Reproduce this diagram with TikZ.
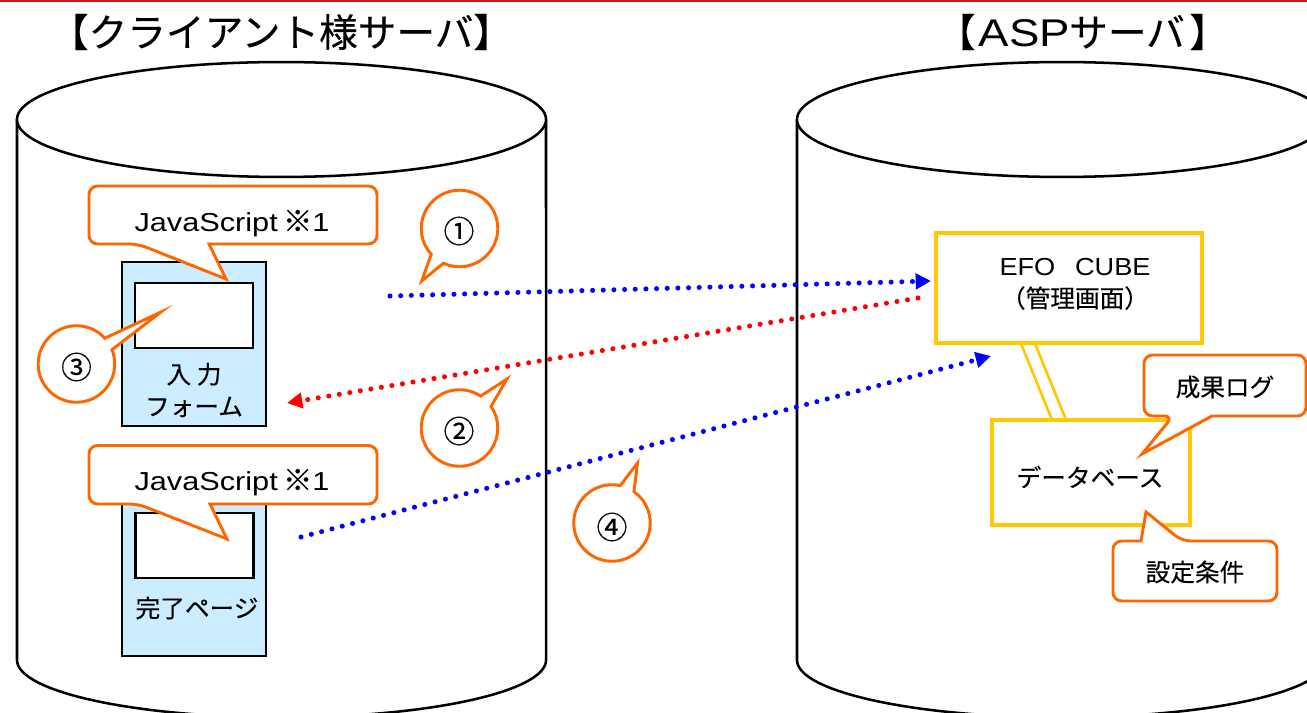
\documentclass[tikz,border=0pt]{standalone}
\usepackage{fontspec}
\setmainfont{Liberation Sans}
\newfontfamily\jp[FakeBold=0.25]{Noto Sans CJK JP}
\newfontfamily\ltn[FakeStretch=1.1]{Liberation Sans}
\newfontfamily\ltnb[FakeStretch=1.18]{Liberation Sans}
\usetikzlibrary{arrows.meta,calc}
\definecolor{orng}{HTML}{FF6600}
\definecolor{yel}{HTML}{FFC800}
\definecolor{pale}{HTML}{CCECFF}
\definecolor{topline}{HTML}{D01818}
\tikzset{
  cyl/.style={draw=black,line width=1.9pt,fill=white},
  formbox/.style={draw=black,line width=1.8pt,fill=pale,inner sep=0pt,minimum width=108pt},
  screenbox/.style={draw=black,line width=1.8pt,fill=white,inner sep=0pt,minimum width=88.5pt,minimum height=48.75pt},
  yelbox/.style={draw=yel,line width=2.4pt,fill=white,inner sep=0pt},
  yelline/.style={draw=yel,line width=2pt},
  calloutshape/.style={draw=orng,line width=2.2pt,fill=white,line join=miter},
  txt/.style={font=\fontsize{18.5pt}{23pt}\selectfont,inner sep=0pt,align=center,text=black},
  jstxt/.style={font=\ltnb\fontsize{19.5pt}{23pt}\selectfont,inner sep=0pt,text=black},
  ttl/.style={font=\fontsize{29pt}{34pt}\selectfont,inner sep=0pt,text=black},
  num/.style={font=\jp\fontsize{23pt}{26pt}\selectfont,inner sep=0pt,text=black},
  dots/.style={line width=3.8pt,line cap=round,dash pattern=on 0pt off 8pt,
    -{Triangle[length=11.5pt,width=11.5pt]}},
}
% rounded balloon with a tail under it: x1 y1 x2 y2 tail-left tip-x tip-y tail-right
\newcommand{\balloonbelow}[8]{%
  \path[calloutshape,rounded corners=6.5pt] (#8,#4) -- (#3,#4) -- (#3,#2) -- (#1,#2) -- (#1,#4) -- (#5,#4)
    [sharp corners] -- (#6,#7) -- cycle;}
% the same with the tail over it
\newcommand{\balloonabove}[8]{%
  \path[calloutshape,rounded corners=6.5pt] (#5,#2) -- (#1,#2) -- (#1,#4) -- (#3,#4) -- (#3,#2) -- (#8,#2)
    [sharp corners] -- (#6,#7) -- cycle;}
% round balloon: centre-x centre-y angle-1 angle-2 tip-x tip-y
\newcommand{\roundballoon}[6]{%
  \path[calloutshape] ($(#1,#2)+(#3:28.7pt)$) arc[start angle=#3,end angle=#4,radius=28.7pt] -- (#5,#6) -- cycle;}
\newcommand{\kome}{{\jp\fontsize{22pt}{23pt}\selectfont ※}}
\begin{document}
\begin{tikzpicture}[x=0.75pt,y=-0.75pt]
\useasboundingbox (0,0) rectangle (1307,713);
\clip (0,0) rectangle (1307,713);
\fill[white] (0,0) rectangle (1307,713);
\fill[topline] (0,0) rectangle (1307,2);

% cylinders
\path[cyl] (17,119.5) -- (17,660) arc[start angle=180,end angle=360,x radius=198.4pt,y radius=43.1pt] -- (546,119.5);
\path[cyl] (281.5,119.5) ellipse[x radius=198.4pt,y radius=43.1pt];
\path[cyl] (797,119.5) -- (797,660) arc[start angle=180,end angle=360,x radius=198.4pt,y radius=43.1pt] -- (1326,119.5);
\path[cyl] (1061.5,119.5) ellipse[x radius=198.4pt,y radius=43.1pt];

\node[ttl] (title1) at (281,32) {\jp 【クライアント様サーバ】};
\node[ttl] (title2) at (1082.5,32) {\jp 【\hspace{0.08em}{\ltnb ASP}\hspace{-0.02em}サーバ\hspace{0.12em}】};

% forms
\node[formbox,minimum height=123pt] (form1) at (194,344) {};
\node[screenbox] (screen1) at (194,315.5) {};
\node[txt] (form1label) at (194,390) {\jp 入 力\\[1pt]\jp フォーム};
\node[formbox,minimum height=120.75pt] (form2) at (194,575.5) {};
\node[screenbox] (screen2) at (194.5,545.5) {};
\node[txt] (form2label) at (197,608) {\jp 完了ページ};

% admin side
\node[yelbox,minimum width=199.5pt,minimum height=82.5pt] (efo) at (1069,288) {};
\node[yelbox,minimum width=148.5pt,minimum height=78.75pt] (db) at (1091,472.5) {};
\draw[yelline] ($(efo.south west)+(87,0)$) -- ($(db.north west)+(61,0)$);
\draw[yelline] ($(efo.south west)+(101,0)$) -- ($(db.north west)+(75,0)$);
\node[txt] (efolabel) at (1075,284) {\ltn EFO\hspace{0.8em}CUBE\\[1pt]\jp （管理画面）};
\node[txt] (dblabel) at (1090,477) {\jp データベース};

% arrows
\coordinate (a1s) at (390,296);
\coordinate (a1e) at (931,281);
\coordinate (a2s) at (918,298);
\coordinate (a2e) at (287,403);
\coordinate (a4s) at (301,537);
\coordinate (a4e) at (991,356);
\draw[dots,blue] (a1s) -- (a1e);
\draw[dots,red] (a2s) -- (a2e);
\draw[dots,blue] (a4s) -- (a4e);

% balloons
\balloonbelow{89}{186}{377}{244}{138}{226}{279}{209}
\node[jstxt] (js1) at (232,223.5) {JavaScript\hspace{0.2em}\kome 1};
\balloonbelow{89}{445.5}{377}{504}{138}{227}{539}{210}
\node[jstxt] (js2) at (232,482.5) {JavaScript\hspace{0.2em}\kome 1};
\balloonbelow{1144}{355}{1306}{416}{1173}{1142}{454}{1212}
\node[txt] (log) at (1225,387) {\jp 成果ログ};
\balloonabove{1113}{541}{1277}{601}{1141}{1146}{512}{1182}
\node[txt] (cond) at (1195,572) {\jp 設定条件};

\roundballoon{459.5}{228.5}{245.2}{582.4}{421.7}{281}
\node[num] (n1) at (459,231) {①};
\roundballoon{459.5}{428}{56.5}{394.5}{507}{379}
\node[num] (n2) at (459,431) {②};
\roundballoon{76.5}{364}{42.3}{382}{161}{312}
\node[num] (n3) at (76.5,367) {③};
\roundballoon{612}{523}{77.5}{415}{637.5}{463}
\node[num] (n4) at (612,527) {④};
\end{tikzpicture}
\end{document}
